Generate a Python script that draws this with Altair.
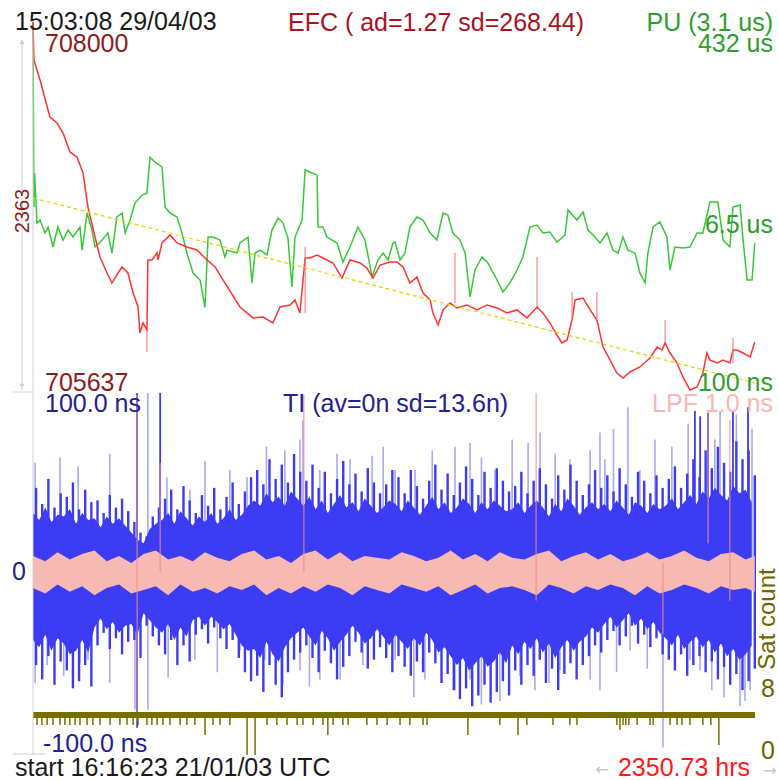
import altair as alt
import pandas as pd

X_MAX = 2350.73

# ---------------- top panel: EFC (red) ----------------
EFC_HOURS = [0, 3, 23, 55, 78, 98, 120, 143, 163, 179, 202, 218, 241, 257, 277, 290, 309, 326, 342, 348,
             358, 371, 374, 387, 404, 407, 420, 446, 469, 501, 534, 567, 593, 619, 674, 716, 749, 781, 804, 837,
             853, 869, 886, 902, 925, 957, 977, 1006, 1032, 1065, 1087, 1107, 1130, 1162, 1185, 1205, 1227, 1250,
             1270, 1293, 1302, 1319, 1335, 1358, 1380, 1413, 1446, 1478, 1511, 1543, 1576, 1608, 1641, 1660, 1683,
             1706, 1722, 1739, 1755, 1765, 1791, 1814, 1836, 1856, 1879, 1901, 1921, 1944, 1976, 2009, 2032, 2048,
             2058, 2074, 2097, 2116, 2139, 2162, 2181, 2194, 2204, 2227, 2247, 2269, 2279, 2292, 2312, 2335, 2350]
EFC_VALUES = [708000, 707757, 707630, 707393, 707355, 707291, 707170, 707138, 707036, 706818, 706627, 706499,
              706397, 706333, 706397, 706435, 706397, 706269, 706180, 706014, 706078, 706033, 706480, 706480,
              706525, 706480, 706589, 706640, 706589, 706563, 706544, 706480, 706435, 706352, 706180, 706110,
              706116, 706078, 706180, 706193, 706225, 706142, 706493, 706493, 706512, 706480, 706461, 706365,
              706480, 706461, 706429, 706365, 706448, 706467, 706467, 706435, 706333, 706371, 706269, 706225,
              706142, 706065, 706161, 706205, 706174, 706193, 706161, 706193, 706174, 706142, 706161, 706110,
              706180, 706142, 706078, 706001, 705950, 705969, 706097, 706225, 706237, 706161, 706097, 705924,
              705841, 705758, 705726, 705765, 705797, 705854, 705924, 705905, 705950, 705886, 705822, 705733,
              705650, 705669, 705758, 705886, 705841, 705822, 705841, 705822, 705905, 705905, 705886, 705861, 705956]
EFC_SPIKE_HOURS = [371, 886, 1374, 1641, 1755, 1836, 2058, 2279]
EFC_SPIKE_BASE = [706033, 706142, 706205, 706180, 706097, 706097, 705950, 705822]
EFC_SPIKE_TIP = [705892, 706563, 706525, 706499, 706276, 706276, 706097, 705982]
TREND_HOURS = [0, 2350.73]
TREND_VALUES = [706876, 705694]

# ---------------- top panel: PU (green, log) ----------------
PU_HOURS = [0, 3, 5, 13, 23, 39, 49, 65, 81, 98,
            114, 130, 153, 160, 176, 192, 202, 225, 244, 257,
            273, 290, 300, 316, 332, 355, 371, 381, 397, 420,
            430, 446, 469, 485, 501, 521, 544, 560, 570, 586,
            609, 625, 632, 664, 674, 700, 713, 723, 739, 762,
            778, 798, 814, 830, 843, 853, 876, 886, 902, 925,
            928, 944, 957, 974, 990, 1009, 1032, 1058, 1081, 1104,
            1123, 1140, 1156, 1172, 1179, 1195, 1211, 1227, 1250, 1270,
            1293, 1315, 1335, 1351, 1367, 1390, 1407, 1423, 1439, 1462,
            1481, 1511, 1530, 1553, 1576, 1595, 1618, 1641, 1660, 1683,
            1706, 1732, 1742, 1771, 1791, 1807, 1830, 1846, 1869, 1888,
            1905, 1921, 1937, 1960, 1976, 1993, 2002, 2019, 2041, 2064,
            2074, 2090, 2116, 2139, 2162, 2181, 2204, 2230, 2247, 2269,
            2279, 2302, 2312, 2325, 2341, 2350]
PU_VALUES = [432, 6.57, 14.2, 4.57, 4.89, 3.65, 4.18, 2.66, 4.18, 3.11,
             3.90, 3.33, 4.18, 2.48, 5.73, 3.90, 2.66, 3.11, 3.65, 2.32,
             5.24, 5.73, 3.65, 4.89, 7.19, 8.6, 9.0, 20.3, 18.2, 16.2,
             6.57, 5.73, 5.24, 3.65, 2.32, 1.48, 1.26, 0.68, 3.33, 3.33,
             3.11, 2.12, 2.48, 2.32, 2.91, 3.33, 1.18, 2.32, 2.48, 2.22,
             3.90, 5.12, 4.57, 3.26, 1.075, 3.33, 4.89, 15.2, 14.5, 13.5,
             4.18, 4.18, 3.33, 3.11, 2.91, 1.89, 2.66, 4.18, 3.11, 1.35,
             1.98, 2.32, 1.98, 2.91, 2.97, 1.98, 2.32, 4.18, 5.24, 4.89,
             3.65, 3.11, 5.73, 5.48, 3.65, 3.11, 2.32, 0.86, 1.58, 2.12,
             1.85, 1.26, 0.96, 1.18, 1.58, 2.12, 4.18, 4.37, 3.65, 3.73,
             2.97, 3.48, 6.13, 4.89, 5.87, 3.90, 3.33, 2.91, 3.65, 2.48,
             2.32, 3.33, 2.48, 2.32, 1.48, 1.18, 2.32, 4.18, 4.68, 3.33,
             1.58, 2.66, 2.60, 2.66, 3.65, 3.65, 7.35, 7.35, 3.11, 2.66,
             6.57, 6.87, 3.11, 1.26, 1.26, 2.91]

# ---------------- bottom panel: TI (blue) ----------------
TI_HOURS = [0, 20, 40, 60, 80, 100, 120, 140, 160, 180,
            200, 220, 240, 260, 280, 300, 320, 340, 360, 380,
            400, 420, 440, 460, 480, 500, 520, 540, 560, 580,
            600, 620, 640, 660, 680, 700, 720, 740, 760, 780,
            800, 820, 840, 860, 880, 900, 920, 940, 960, 980,
            1000, 1020, 1040, 1060, 1080, 1100, 1120, 1140, 1160, 1180,
            1200, 1220, 1240, 1260, 1280, 1300, 1320, 1340, 1360, 1380,
            1400, 1420, 1440, 1460, 1480, 1500, 1520, 1540, 1560, 1580,
            1600, 1620, 1640, 1660, 1680, 1700, 1720, 1740, 1760, 1780,
            1800, 1820, 1840, 1860, 1880, 1900, 1920, 1940, 1960, 1980,
            2000, 2020, 2040, 2060, 2080, 2100, 2120, 2140, 2160, 2180,
            2200, 2220, 2240, 2260, 2280, 2300, 2320, 2340]
BODY_HI = [33, 29, 36, 28, 32, 31, 35, 27, 33, 29,
           30, 25, 31, 27, 30, 26, 22, 18, 16, 24, 27,
           29, 33, 27, 34, 30, 26, 31, 28, 33, 27, 30, 35, 29, 32, 37,
           40, 37, 44, 39, 42, 37, 45, 41,
           37, 42, 35, 40, 33, 38, 43, 36, 39, 34, 41, 37, 33, 36, 40,
           38, 34, 40, 36, 32, 37, 42, 35, 39, 33,
           36, 41, 38, 33, 39, 35, 40, 37, 34,
           35, 39, 33, 37, 40, 36, 31, 38, 34, 41, 37, 32, 36, 39, 35,
           38, 34, 40, 36, 32, 39, 37, 33, 38, 35,
           37, 41, 35, 39, 43, 38, 45, 41, 47, 43, 40, 48, 44, 46, 39]
BODY_LO = [-38, -42, -35, -44, -37, -40, -46, -44, -38, -45,
           -31, -26, -32, -28, -34, -30, -29, -35, -23, -27, -31,
           -34, -29, -38, -31, -36, -27, -25, -30, -25, -28, -32, -29, -35, -41, -44,
           -43, -48, -39, -46, -50, -42, -37, -34,
           -31, -36, -41, -33, -37, -44, -39, -35, -30, -34, -40, -37, -32, -36, -41,
           -35, -39, -43, -37, -41, -34, -38, -45, -42, -47,
           -52, -48, -55, -51, -47, -53, -50, -45, -51,
           -41, -46, -39, -43, -37, -45, -40, -48, -42, -38, -44, -39, -36, -31, -34,
           -29, -25, -31, -27, -23, -30, -26, -32, -28, -34,
           -37, -41, -35, -43, -39, -36, -42, -38, -45, -40, -47, -43, -49, -46, -41]
SPK_HOURS = [10, 30, 50, 70, 90, 110, 130, 150, 170, 190,
             210, 230, 250, 270, 290, 310, 330, 350, 370, 390,
             410, 430, 450, 470, 490, 510, 530, 550, 570, 590,
             610, 630, 650, 670, 690, 710, 730, 750, 770, 790,
             810, 830, 850, 870, 890, 910, 930, 950, 970, 990,
             1010, 1030, 1050, 1070, 1090, 1110, 1130, 1150, 1170, 1190,
             1210, 1230, 1250, 1270, 1290, 1310, 1330, 1350, 1370, 1390,
             1410, 1430, 1450, 1470, 1490, 1510, 1530, 1550, 1570, 1590,
             1610, 1630, 1650, 1670, 1690, 1710, 1730, 1750, 1770, 1790,
             1810, 1830, 1850, 1870, 1890, 1910, 1930, 1950, 1970, 1990,
             2010, 2030, 2050, 2070, 2090, 2110, 2130, 2150, 2170, 2190,
             2210, 2230, 2250, 2270, 2290, 2310, 2330, 2350]
SPK_HI = [47, 38, 52, 36, 44, 42, 50, 35, 46, 39,
          40, 33, 43, 36, 41, 34, 28, 22, 20, 31, 36,
          41, 46, 35, 48, 40, 33, 43, 37, 47, 35, 42, 50, 38, 45, 53,
          57, 49, 63, 52, 60, 50, 66, 56,
          51, 60, 47, 56, 44, 52, 62, 49, 55, 45, 58, 50, 44, 49, 57,
          53, 44, 57, 48, 41, 51, 60, 46, 55, 43,
          50, 59, 52, 43, 56, 47, 58, 51, 45,
          48, 56, 44, 51, 58, 49, 41, 54, 46, 60, 51, 43, 49, 57, 47,
          54, 45, 58, 49, 42, 56, 51, 44, 54, 47,
          52, 59, 47, 55, 63, 53, 68, 58, 70, 61, 56, 73, 63, 68, 54]
SPK_LO = [-52, -60, -47, -63, -50, -55, -65, -61, -52, -64,
          -41, -34, -43, -37, -46, -39, -38, -48, -30, -36, -41,
          -46, -38, -52, -41, -50, -35, -32, -40, -31, -37, -43, -38, -48, -56, -61,
          -58, -67, -52, -63, -70, -56, -49, -45,
          -41, -48, -56, -44, -51, -60, -53, -47, -39, -45, -54, -49, -42, -48, -56,
          -47, -53, -58, -50, -56, -45, -51, -62, -57, -66,
          -71, -65, -75, -69, -63, -73, -67, -61, -69,
          -55, -63, -52, -58, -49, -62, -54, -66, -57, -51, -60, -52, -47, -41, -45,
          -38, -33, -41, -36, -30, -40, -35, -42, -37, -46,
          -49, -55, -46, -58, -52, -47, -56, -50, -60, -53, -63, -57, -66, -61, -54]
LIGHT_HOURS = [7, 88, 147, 250, 374, 436, 511, 560, 641, 697,
               760, 820, 869, 879, 934, 990, 1032, 1104, 1140, 1179,
               1244, 1300, 1374, 1423, 1460, 1504, 1560, 1612, 1651, 1700,
               1748, 1814, 1846, 1862, 1890, 1937, 1976, 2025, 2080, 2133,
               2220, 2237, 2290, 2341,
               7, 46, 100, 153, 179, 250, 332, 374, 440, 527,
               600, 674, 755, 814, 869, 900, 934, 1000, 1074, 1179,
               1240, 1276, 1374, 1423, 1460, 1520, 1585, 1634, 1680, 1716,
               1814, 1846, 1900, 1944, 2000, 2051, 2139, 2172, 2210, 2250,
               2269, 2302, 2318, 2335]
LIGHT_TIPS = [61, 64, 59, 66, 100, 53, 46, 62, 57, 53,
              70, 68, 74, 85, 57, 66, 63, 65, 70, 57,
              57, 68, 70, 72, 64, 57, 74, 72, 78, 66,
              63, 68, 78, 63, 80, 92, 57, 74, 70, 83,
              74, 90, 88, 80,
              -62, -52, -58, -51, -49, -62, -77, -77, -59, -49,
              -56, -44, -49, -63, -55, -64, -60, -60, -52, -49,
              -70, -60, -66, -60, -74, -72, -58, -66, -62, -55,
              -60, -66, -56, -44, -54, -98, -49, -55, -66, -70,
              -60, -75, -72, -66]
DARK_HOURS = [339, 414, 2155, 2172, 2198, 2279, 2328]
DARK_TOP = [100, 100, 90, 87, 89, 90, 92]
DARK_BOT = [-87, 0, 0, 0, 0, 0, 0]

# ---------------- LPF (pink) ----------------
LPF_HOURS = [0, 40, 80, 120, 160, 200, 240, 280, 320, 360, 400, 440, 480, 520, 560, 600, 640, 680, 720, 760,
             800, 840, 880, 920, 960, 1000, 1040, 1080, 1120, 1160, 1200, 1240, 1280, 1320, 1360, 1400, 1440,
             1480, 1520, 1560, 1600, 1640, 1680, 1720, 1760, 1800, 1840, 1880, 1920, 1960, 2000, 2040, 2080,
             2120, 2160, 2200, 2240, 2280, 2320, 2350]
LPF_HI = [9, 6, 11, 7, 10, 12, 6, 9, 5, 10, 12, 7, 9, 6, 11, 8, 6, 10, 12, 7,
          9, 5, 10, 12, 7, 11, 6, 9, 8, 7, 11, 9, 6, 8, 12, 7, 10, 6, 11, 8,
          7, 10, 12, 6, 9, 11, 7, 10, 6, 8, 11, 7, 9, 12, 8, 6, 10, 11, 7, 9]
LPF_LO = [-9, -12, -7, -11, -8, -13, -9, -7, -12, -10, -8, -13, -7, -11, -9, -12, -8, -10, -7, -13,
          -9, -12, -8, -11, -7, -9, -13, -8, -10, -12, -7, -9, -11, -8, -13, -10, -7, -12, -9, -8,
          -10, -13, -7, -9, -12, -8, -10, -7, -9, -13, -8, -12, -10, -7, -9, -12, -8, -10, -9, -11]
EVENT_HOURS = [339, 414, 882, 1638, 2051, 2198, 2269]
EVENT_TOP = [99, 61, 99, 100, 5, 90, 85]
EVENT_BOT = [-83, 0, 0, -16, -35, 16, -16]

# ---------------- Sat count (olive) ----------------
SAT_HOURS = [0, 2350.73]
SAT_COUNT = [8, 8]
SAT_DIP_HOURS = [13, 29, 46, 65, 88, 104, 120, 137, 153, 176,
                 195, 218, 251, 283, 306, 326, 342, 371, 387, 404,
                 423, 446, 479, 501, 527, 560, 586, 609, 641, 697,
                 723, 762, 794, 827, 860, 879, 912, 944, 960, 977,
                 1009, 1026, 1087, 1120, 1153, 1195, 1227, 1270, 1283, 1416,
                 1520, 1579, 1608, 1693, 1748, 1771, 1901, 1911, 1921, 1930,
                 1940, 1967, 2009, 2019, 2074, 2097, 2113, 2139, 2181, 2207,
                 2233]
SAT_DIP_VALUES = [6, 6, 6, 6, 6, 6, 6, 6, 6, 6,
                  6, 6, 6, 6, 6, 6, 6, 6, 6, 6,
                  6, 6, 6, 6, 6, 4, 6, 6, 6, 0,
                  0, 6, 6, 6, 6, 6, 6, 6, 4, 6,
                  6, 6, 6, 6, 6, 6, 6, 6, 6, 4,
                  6, 4, 6, 6, 6, 6, 6, 5, 6, 6,
                  6, 6, 6, 6, 6, 6, 6, 6, 6, 6,
                  2]

# ---------------- scales ----------------
xs = alt.Scale(domain=[0, X_MAX], range=[33, 755], nice=False)
efc_s = alt.Scale(domain=[705637, 708000], range=[392, 22], nice=False, zero=False)
pu_s = alt.Scale(type="log", domain=[0.1, 432], range=[392, 22], nice=False)
ti_s = alt.Scale(domain=[-100, 100], range=[751, 393], nice=False, zero=False)
sat_s = alt.Scale(domain=[0, 8], range=[755, 715], nice=False, zero=False)

X = alt.X("hours:Q", scale=xs, axis=None)

FONT = "Liberation Sans"
BLUE = "#3c3cf4"
LIGHT_BLUE = "#a9a9f6"
PINK = "#f6b9b3"
OLIVE = "#776f00"

layers = []

# TI light spikes
light_df = pd.DataFrame({"hours": LIGHT_HOURS, "tip": LIGHT_TIPS})
layers.append(alt.Chart(light_df).mark_rule(color=LIGHT_BLUE, strokeWidth=1.6).encode(
    x=X, y=alt.Y("tip:Q", scale=ti_s, axis=None), y2=alt.datum(0)))

# TI body
body_df = pd.DataFrame({"hours": TI_HOURS, "hi": BODY_HI, "lo": BODY_LO})
layers.append(alt.Chart(body_df).mark_area(color=BLUE, opacity=1).encode(
    x=X, y=alt.Y("hi:Q", scale=ti_s, axis=None), y2="lo:Q"))

# TI dark spikes
spk_df = pd.DataFrame({"hours": SPK_HOURS, "hi": SPK_HI, "lo": SPK_LO})
layers.append(alt.Chart(spk_df).mark_rule(color=BLUE, strokeWidth=2.4).encode(
    x=X, y=alt.Y("hi:Q", scale=ti_s, axis=None), y2="lo:Q"))

dark_df = pd.DataFrame({"hours": DARK_HOURS, "top": DARK_TOP, "bot": DARK_BOT})
layers.append(alt.Chart(dark_df).mark_rule(color=BLUE, strokeWidth=1.8).encode(
    x=X, y=alt.Y("top:Q", scale=ti_s, axis=None), y2="bot:Q"))

# LPF band
lpf_df = pd.DataFrame({"hours": LPF_HOURS, "hi": LPF_HI, "lo": LPF_LO})
layers.append(alt.Chart(lpf_df).mark_area(color=PINK, opacity=1).encode(
    x=X, y=alt.Y("hi:Q", scale=ti_s, axis=None), y2="lo:Q"))

ev_df = pd.DataFrame({"hours": EVENT_HOURS, "top": EVENT_TOP, "bot": EVENT_BOT})
layers.append(alt.Chart(ev_df).mark_rule(color="#f08c8c", strokeWidth=1).encode(
    x=X, y=alt.Y("top:Q", scale=ti_s, axis=None), y2="bot:Q"))

# Sat count
sat_df = pd.DataFrame({"hours": SAT_HOURS, "sat": SAT_COUNT})
layers.append(alt.Chart(sat_df).mark_line(color=OLIVE, strokeWidth=6, strokeCap="butt").encode(
    x=X, y=alt.Y("sat:Q", scale=sat_s, axis=None)))
dip_df = pd.DataFrame({"hours": SAT_DIP_HOURS, "dip": SAT_DIP_VALUES})
layers.append(alt.Chart(dip_df).mark_rule(color=OLIVE, strokeWidth=1.5).encode(
    x=X, y=alt.Y("dip:Q", scale=sat_s, axis=None), y2=alt.datum(8)))

# PU green
pu_df = pd.DataFrame({"hours": PU_HOURS, "pu": PU_VALUES})
layers.append(alt.Chart(pu_df).mark_line(color="#36c936", strokeWidth=1.5).encode(
    x=X, y=alt.Y("pu:Q", scale=pu_s, axis=None)))

# EFC red
efc_df = pd.DataFrame({"hours": EFC_HOURS, "efc": EFC_VALUES})
layers.append(alt.Chart(efc_df).mark_line(color="#ff3333", strokeWidth=1.5).encode(
    x=X, y=alt.Y("efc:Q", scale=efc_s, axis=None)))
efc_sp_df = pd.DataFrame({"hours": EFC_SPIKE_HOURS, "base": EFC_SPIKE_BASE, "tip": EFC_SPIKE_TIP})
layers.append(alt.Chart(efc_sp_df).mark_rule(color="#ff6b6b", strokeWidth=1).encode(
    x=X, y=alt.Y("base:Q", scale=efc_s, axis=None), y2="tip:Q"))

# trend (yellow dashed)
tr_df = pd.DataFrame({"hours": TREND_HOURS, "efc": TREND_VALUES})
layers.append(alt.Chart(tr_df).mark_line(color="#d9d900", strokeWidth=1.2, strokeDash=[4, 3]).encode(
    x=X, y=alt.Y("efc:Q", scale=efc_s, axis=None)))

# grey frame decorations
GREY = "#d0d0d0"
one = alt.Data(values=[{}])
layers.append(alt.Chart(one).mark_rule(color=GREY, strokeWidth=1).encode(
    x=alt.value(33), y=alt.value(30), y2=alt.value(755)))
layers.append(alt.Chart(one).mark_rule(color=GREY, strokeWidth=1).encode(
    x=alt.value(13), x2=alt.value(33), y=alt.value(392)))
layers.append(alt.Chart(one).mark_rule(color=GREY, strokeWidth=1).encode(
    x=alt.value(13), x2=alt.value(45), y=alt.value(754)))
layers.append(alt.Chart(one).mark_rule(color=GREY, strokeWidth=1).encode(
    x=alt.value(22), y=alt.value(40), y2=alt.value(390)))
layers.append(alt.Chart(one).mark_point(shape="triangle-up", filled=True, size=30, color=GREY, opacity=1).encode(
    x=alt.value(22), y=alt.value(42)))
layers.append(alt.Chart(one).mark_point(shape="triangle-down", filled=True, size=30, color=GREY, opacity=1).encode(
    x=alt.value(22), y=alt.value(386)))


def txt(s, x, y, color, align="left", size=25, angle=0, baseline="alphabetic", font=FONT):
    return alt.Chart(alt.Data(values=[{}])).mark_text(
        text=s, align=align, baseline=baseline, fontSize=size, font=font, color=color, angle=angle
    ).encode(x=alt.value(x), y=alt.value(y))


DARKRED = "#8e1c1c"
GREEN = "#2e9e2e"
NAVY = "#22228c"
layers += [
    txt("15:03:08 29/04/03", 15, 30, "#1a1a1a"),
    txt("EFC ( ad=1.27 sd=268.44)", 288, 31, "#a8141e"),
    txt("708000", 45, 52, DARKRED),
    txt("PU (3.1 us)", 773, 31, GREEN, align="right"),
    txt("432 us", 773, 52, GREEN, align="right"),
    txt("6.5 us", 773, 233, GREEN, align="right"),
    txt("100 ns", 773, 391, GREEN, align="right"),
    txt("705637", 45, 391, DARKRED),
    txt("2363", 23, 211, DARKRED, align="center", size=20, angle=270, baseline="middle"),
    txt("100.0 ns", 45, 412, NAVY),
    txt("TI (av=0n sd=13.6n)", 283, 412, NAVY),
    txt("LPF 1.0 ns", 773, 412, PINK, align="right"),
    txt("0", 12, 580, NAVY),
    txt("-100.0 ns", 43, 752, NAVY),
    txt("Sat count", 768, 619, "#6b6600", align="center", size=24, angle=270, baseline="middle"),
    txt("8", 768, 697, "#6b6600", align="center"),
    txt("0", 768, 759, "#6b6600", align="center"),
    txt("start 16:16:23 21/01/03 UTC", 15, 776, "#1a1a1a"),
    txt("2350.73 hrs", 750, 776, "#ff1a1a", align="right"),
    txt("\u2190", 602, 770, "#c8c8c8", align="center", size=16, baseline="middle", font="DejaVu Sans"),
    txt("\u2192", 770, 771, "#c8c8c8", align="center", size=16, baseline="middle", font="DejaVu Sans"),
]

chart = alt.layer(*layers).resolve_scale(y="independent").properties(
    width=779, height=780, autosize=alt.AutoSizeParams(type="none"), padding=0,
    background="white"
).configure_view(stroke=None)

chart.save("out.html", embed_options={"renderer": "svg", "actions": False})
